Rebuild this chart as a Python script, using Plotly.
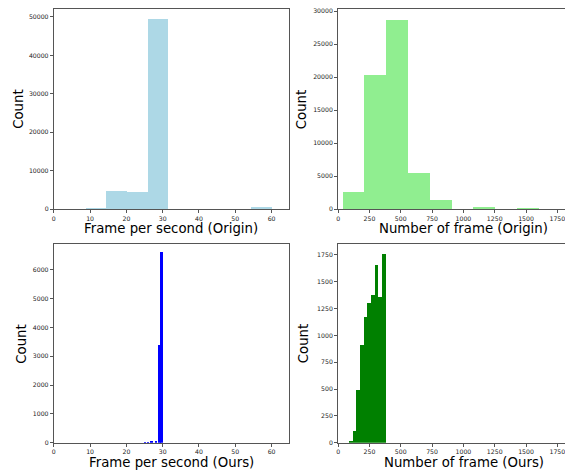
import numpy as np
import plotly.graph_objects as go

# ---------------- data ----------------
# Top-left: FPS (Origin) histogram, 10 bins
fps_origin_edges = [3.0, 8.7, 14.4, 20.1, 25.8, 31.5, 37.2, 42.9, 48.6, 54.3, 60.0]
fps_origin_counts = [0, 60, 4550, 4380, 49400, 0, 0, 0, 0, 250]

# Top-right: number of frames (Origin) histogram, 10 bins
nf_origin_edges = [37, 211, 385, 559, 733, 907, 1081, 1255, 1429, 1603, 1777]
nf_origin_counts = [2500, 20350, 28700, 5450, 1400, 0, 150, 0, 100, 0]

# Bottom-left: FPS (Ours) histogram (non-empty bins only)
fps_ours_left = [24.9, 25.8, 26.7, 27.7, 28.9, 29.4]
fps_ours_right = [25.4, 26.3, 27.2, 28.3, 29.4, 29.9]
fps_ours_counts = [12, 23, 46, 80, 3390, 6610]

# Bottom-right: number of frames (Ours) histogram, 10 bins
nf_ours_edges = [88, 117, 146, 175, 205, 234, 263, 292, 321, 350, 380]
nf_ours_counts = [10, 107, 496, 907, 1176, 1305, 1378, 1654, 1360, 1758]

x_titles = ["Frame per second (Origin)", "Number of frame (Origin)",
            "Frame per second (Ours)", "Number of frame (Ours)"]
y_title = "Count"

# ---------------- layout constants ----------------
W, H = 565, 472
def px(x):
    return x / W
def py(y):
    return 1 - y / H

left_dom = [px(52), px(288)]
right_dom = [px(337.3), 1.0]
top_dom = [py(209.3), py(7.3)]
bot_dom = [py(445.5), py(244.5)]

fig = go.Figure()

def add_hist(left, right, counts, color, xa, ya):
    left = np.asarray(left, float)
    right = np.asarray(right, float)
    fig.add_trace(go.Bar(
        x=(left + right) / 2, y=counts, width=right - left,
        marker=dict(color=color, line=dict(width=0)),
        xaxis=xa, yaxis=ya, showlegend=False, hoverinfo="x+y"))

e = np.asarray(fps_origin_edges)
add_hist(e[:-1], e[1:], fps_origin_counts, "#ADD8E6", "x", "y")
e = np.asarray(nf_origin_edges)
add_hist(e[:-1], e[1:], nf_origin_counts, "#90EE90", "x2", "y2")
add_hist(fps_ours_left, fps_ours_right, fps_ours_counts, "#0000FF", "x3", "y3")
e = np.asarray(nf_ours_edges)
add_hist(e[:-1], e[1:], nf_ours_counts, "#008000", "x4", "y4")

tickfont = dict(family="DejaVu Sans", size=6.2, color="#222222")
spine = "#555555"

def ax(domain, anchor, rng, dtick, mirror=True):
    return dict(domain=domain, anchor=anchor, range=rng, dtick=dtick, tick0=0,
                tickformat="d", ticklabeloverflow="allow",
                showgrid=False, zeroline=False, showline=True, linecolor=spine,
                linewidth=1, mirror=mirror, ticks="outside", ticklen=3,
                tickcolor=spine, tickfont=tickfont)

fig.update_layout(
    width=W, height=H, margin=dict(l=0, r=0, t=0, b=0),
    paper_bgcolor="white", plot_bgcolor="white", bargap=0,
    xaxis=ax(left_dom, "y", [0, 64.8], 10),
    yaxis=ax(top_dom, "x", [0, 52000], 10000),
    xaxis2=ax(right_dom, "y2", [0, 1811], 250),
    yaxis2=ax(top_dom, "x2", [0, 30300], 5000, mirror=False),
    xaxis3=ax(left_dom, "y3", [0, 64.8], 10),
    yaxis3=ax(bot_dom, "x3", [0, 6900], 1000),
    xaxis4=ax(right_dom, "y4", [0, 1811], 250),
    yaxis4=ax(bot_dom, "x4", [0, 1851], 250, mirror=False),
)

titlefont = dict(family="DejaVu Sans", size=13.3, color="black")
ann = []
for (cx, cy), t in zip([(170, 229), (463.5, 229), (170, 465), (463.5, 465)], x_titles):
    ann.append(dict(x=px(cx), y=py(cy), xref="paper", yref="paper", text=t,
                    showarrow=False, font=titlefont, xanchor="center", yanchor="middle"))
for cx, cy in [(17, 108), (300.5, 108), (19.5, 345), (302, 345)]:
    ann.append(dict(x=px(cx), y=py(cy), xref="paper", yref="paper", text=y_title,
                    showarrow=False, font=titlefont, textangle=-90,
                    xanchor="center", yanchor="middle"))
fig.update_layout(annotations=ann)

fig.write_html("out.html", config={"displayModeBar": False},
               post_script="document.body.style.margin='0px';document.body.style.padding='0px';")
